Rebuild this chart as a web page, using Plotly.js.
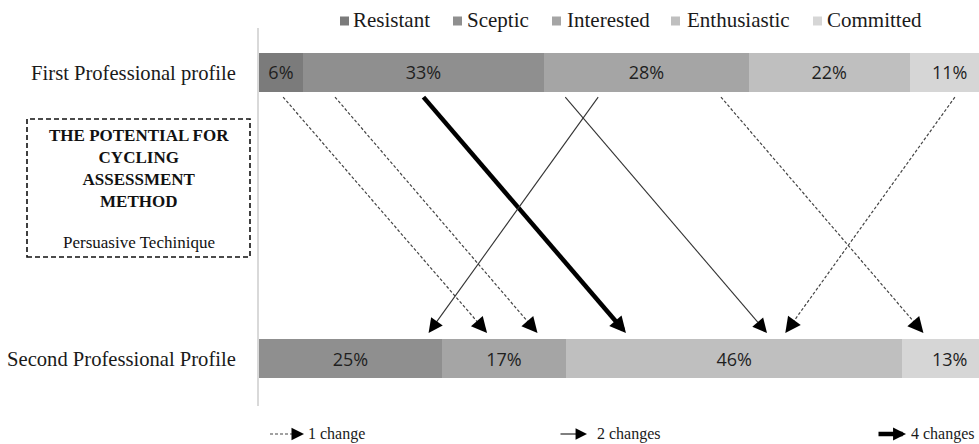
<!DOCTYPE html>
<html><head><meta charset="utf-8">
<script src="https://cdn.plot.ly/plotly-3.0.1.min.js"></script>
<style>html,body{margin:0;padding:0;background:#fff;} #chart{width:979px;height:444px;}</style>
</head><body><div id="chart"></div>
<script>
// ---- data ----
const categories = ['Resistant', 'Sceptic', 'Interested', 'Enthusiastic', 'Committed'];
const profiles = ['First Professional profile', 'Second Professional Profile'];
const firstProfile = [6, 33, 28, 22, 11];
const secondProfile = [0, 25, 17, 46, 13];
// transitions: position on first bar (%), position on second bar (%), number of changes
const moveFrom = [3.3, 10.4, 22.5, 46.4, 41.9, 63.2, 95.2];
const moveTo = [31.2, 38.1, 50.2, 23.2, 69.5, 90.9, 72.0];
const moveChanges = [1, 1, 4, 2, 2, 1, 1];
const changeKinds = [1, 2, 4];
const changeLabels = ['1 change', '2 changes', '4 changes'];
const boxTitle = 'THE POTENTIAL FOR<br>CYCLING<br>ASSESSMENT<br>METHOD';
const boxSubtitle = 'Persuasive Techinique';

// ---- styles ----
const colors = ['#7b7b7b', '#8f8f8f', '#a5a5a5', '#bfbfbf', '#d6d6d6'];
const styleFor = {
  1: {dash: '3px,2px', width: 1.2, color: '#444444', size: 2.6},
  2: {dash: 'solid', width: 1.1, color: '#333333', size: 2.6},
  4: {dash: 'solid', width: 4.5, color: '#000000', size: 0.72}
};
const serif = "'Liberation Serif', 'Times New Roman', serif";
const sans = "'Open Sans', 'Noto Sans', sans-serif";
const yFirst = 1, ySecond = 0;
const barW = 0.1355;
const startY = 1 - 0.086, endY = 0.09;
const headFrac = 0.045;

// plot geometry in px for paper conversion
const L = 259, T = 28, W = 720, H = 378;
const px = p => (p - L) / W;
const py = p => (T + H - p) / H;

const traces = [];
categories.forEach((c, i) => {
  const vals = [firstProfile[i], secondProfile[i]];
  traces.push({
    type: 'bar', orientation: 'h', name: c,
    y: [yFirst, ySecond], x: vals,
    width: barW,
    marker: {color: colors[i], line: {width: 0}},
    text: vals.map(v => v > 0 ? v + '%' : ''),
    textposition: 'inside', insidetextanchor: 'middle',
    textangle: 0, constraintext: 'none',
    textfont: {family: sans, size: 18, color: '#1f1f1f'},
    hoverinfo: 'skip', showlegend: false
  });
});

const annotations = [];
moveFrom.forEach((f, i) => {
  const t = moveTo[i];
  const s = styleFor[moveChanges[i]];
  const tailX = t - (t - f) * headFrac;
  const tailY = endY + (startY - endY) * headFrac;
  traces.push({
    type: 'scatter', mode: 'lines',
    x: [f, tailX], y: [startY, tailY],
    line: {color: s.color, width: s.width, dash: s.dash},
    hoverinfo: 'skip', showlegend: false
  });
  annotations.push({
    x: t, y: endY, xref: 'x', yref: 'y',
    ax: tailX, ay: tailY, axref: 'x', ayref: 'y',
    text: '', showarrow: true, arrowhead: 2,
    arrowsize: s.size, arrowwidth: s.width, arrowcolor: '#000', standoff: 0
  });
});

const shapes = [];
// top legend
const legSq = [340, 453, 552, 671, 813];
const legTx = [351, 465, 565, 685, 825];
categories.forEach((c, i) => {
  shapes.push({type: 'rect', xref: 'paper', yref: 'paper',
    x0: px(legSq[i]), x1: px(legSq[i] + 9), y0: py(25.5), y1: py(16.5),
    fillcolor: colors[i], line: {width: 0}});
  annotations.push({xref: 'paper', yref: 'paper', x: px(legTx[i]), y: py(20),
    xanchor: 'left', yanchor: 'middle', showarrow: false, text: c,
    font: {family: serif, size: 21, color: '#1a1a1a'}});
});

// dashed box
shapes.push({type: 'rect', xref: 'paper', yref: 'paper',
  x0: px(27), x1: px(250), y0: py(257), y1: py(119),
  line: {color: '#111', width: 1.6, dash: '5px,3px'}, fillcolor: 'rgba(0,0,0,0)'});
annotations.push({xref: 'paper', yref: 'paper', x: px(138.5), y: py(168),
  xanchor: 'center', yanchor: 'middle', showarrow: false, text: '<b>' + boxTitle + '</b>',
  font: {family: serif, size: 17, color: '#111'}});
annotations.push({xref: 'paper', yref: 'paper', x: px(138.5), y: py(242),
  xanchor: 'center', yanchor: 'middle', showarrow: false, text: boxSubtitle,
  font: {family: serif, size: 17, color: '#111'}});

// bottom legend
const legArrowStart = [270, 559, 877];
const legArrowTip = [304, 587, 906];
const legText = [306, 595, 909];
const legY = 434;
changeKinds.forEach((k, i) => {
  const s = styleFor[k];
  if (s.dash !== 'solid') {
    shapes.push({type: 'line', xref: 'paper', yref: 'paper',
      x0: px(legArrowStart[i]), x1: px(legArrowTip[i] - 10), y0: py(legY), y1: py(legY),
      line: {color: s.color, width: s.width, dash: s.dash}});
    annotations.push({xref: 'paper', yref: 'paper', x: px(legArrowTip[i]), y: py(legY),
      ax: -11, ay: 0, text: '', showarrow: true, arrowhead: 2,
      arrowsize: s.size * 0.8, arrowwidth: s.width, arrowcolor: '#000', standoff: 0});
  } else {
    annotations.push({xref: 'paper', yref: 'paper', x: px(legArrowTip[i]), y: py(legY),
      ax: -(legArrowTip[i] - legArrowStart[i]), ay: 0, text: '', showarrow: true, arrowhead: 2,
      arrowsize: s.size * 0.8, arrowwidth: s.width, arrowcolor: '#000', standoff: 0});
  }
  annotations.push({xref: 'paper', yref: 'paper', x: px(legText[i]), y: py(legY),
    xanchor: 'left', yanchor: 'middle', showarrow: false, text: changeLabels[i],
    font: {family: serif, size: 16, color: '#1a1a1a'}});
});

const layout = {
  width: 979, height: 444,
  margin: {l: L, r: 979 - L - W, t: T, b: 444 - T - H, pad: 0},
  paper_bgcolor: '#fff', plot_bgcolor: '#fff',
  barmode: 'stack', bargap: 0,
  showlegend: false,
  xaxis: {range: [0, 98.5], visible: false, fixedrange: true},
  yaxis: {
    range: [-0.1649, 1.1554], tickvals: [yFirst, ySecond], ticktext: profiles,
    showgrid: false, zeroline: false, showline: true, linecolor: '#d9d9d9', linewidth: 2,
    ticks: '', ticklabelstandoff: 17,
    tickfont: {family: serif, size: 20.6, color: '#1a1a1a'}, fixedrange: true
  },
  shapes: shapes,
  annotations: annotations
};

Plotly.newPlot('chart', traces, layout, {displayModeBar: false, staticPlot: true});
</script>
</body></html>
